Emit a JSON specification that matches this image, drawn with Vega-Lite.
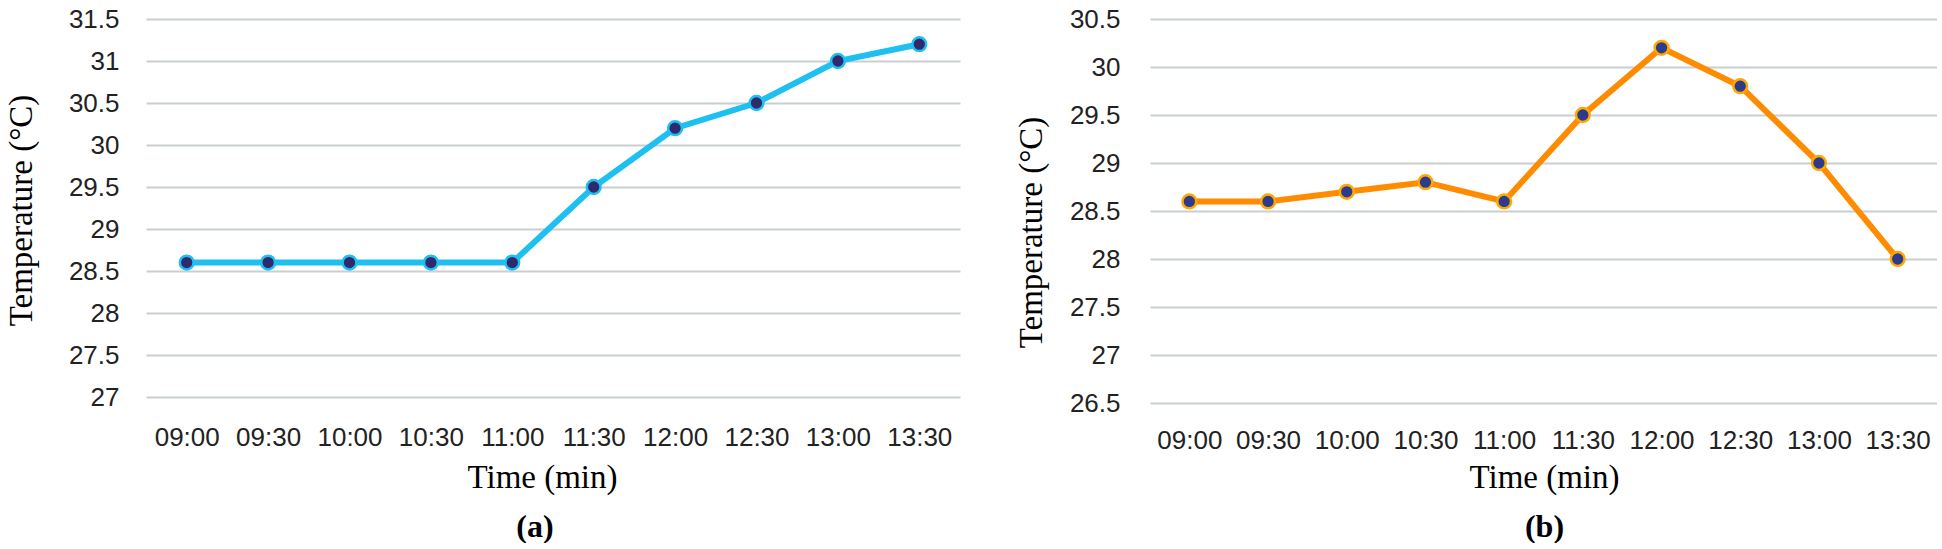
{
  "$schema": "https://vega.github.io/schema/vega-lite/v6.json",
  "padding": {"left": 4, "top": 6, "right": 0, "bottom": 0},
  "background": "white",
  "spacing": 54,
  "config": {"view": {"stroke": null}},
  "hconcat": [
    {
      "width": 814,
      "height": 378,
      "data": {"values": [
        {"time": "09:00", "temp": 28.6},
        {"time": "09:30", "temp": 28.6},
        {"time": "10:00", "temp": 28.6},
        {"time": "10:30", "temp": 28.6},
        {"time": "11:00", "temp": 28.6},
        {"time": "11:30", "temp": 29.5},
        {"time": "12:00", "temp": 30.2},
        {"time": "12:30", "temp": 30.5},
        {"time": "13:00", "temp": 31.0},
        {"time": "13:30", "temp": 31.2}
      ]},
      "title": {"text": "(a)", "orient": "bottom", "font": "Liberation Serif", "fontWeight": "bold", "fontSize": 32, "color": "black", "dx": -18, "offset": 18},
      "encoding": {
        "x": {"field": "time", "type": "ordinal", "sort": null, "scale": {"type": "point", "padding": 0.5},
          "axis": {"title": "Time (min)", "labelAngle": 0, "labelFont": "Liberation Sans", "labelFontSize": 26, "labelColor": "#222222", "labelPadding": 27, "ticks": false, "domain": false, "grid": false,
            "titleFont": "Liberation Serif", "titleFontSize": 33, "titleFontWeight": "normal", "titleColor": "black", "titleX": 396, "titleY": 90, "titleBaseline": "alphabetic"}},
        "y": {"field": "temp", "type": "quantitative", "scale": {"domain": [27, 31.5], "nice": false, "zero": false},
          "axis": {"title": "Temperature (°C)", "values": [27, 27.5, 28, 28.5, 29, 29.5, 30, 30.5, 31, 31.5], "format": "~g", "labelFont": "Liberation Sans", "labelFontSize": 26, "labelColor": "#222222", "labelPadding": 27, "ticks": false, "domain": false, "grid": true, "gridColor": "#c9cfcf", "gridWidth": 2,
            "titleFont": "Liberation Serif", "titleFontSize": 33, "titleFontWeight": "normal", "titleColor": "black", "titleX": -125, "titleY": 191, "titleBaseline": "middle"}}
      },
      "layer": [
        {"mark": {"type": "line", "color": "#1ec0f2", "strokeWidth": 6}},
        {"mark": {"type": "point", "filled": true, "fill": "#2f2a6e", "stroke": "#1ec0f2", "strokeWidth": 2.5, "size": 190, "opacity": 1}}
      ]
    },
    {
      "width": 787,
      "height": 384,
      "data": {"values": [
        {"time": "09:00", "temp": 28.6},
        {"time": "09:30", "temp": 28.6},
        {"time": "10:00", "temp": 28.7},
        {"time": "10:30", "temp": 28.8},
        {"time": "11:00", "temp": 28.6},
        {"time": "11:30", "temp": 29.5},
        {"time": "12:00", "temp": 30.2},
        {"time": "12:30", "temp": 29.8},
        {"time": "13:00", "temp": 29.0},
        {"time": "13:30", "temp": 28.0}
      ]},
      "title": {"text": "(b)", "orient": "bottom", "font": "Liberation Serif", "fontWeight": "bold", "fontSize": 32, "color": "black", "dx": 1, "offset": 18},
      "encoding": {
        "x": {"field": "time", "type": "ordinal", "sort": null, "scale": {"type": "point", "padding": 0.5},
          "axis": {"title": "Time (min)", "labelAngle": 0, "labelFont": "Liberation Sans", "labelFontSize": 26, "labelColor": "#222222", "labelPadding": 24, "ticks": false, "domain": false, "grid": false,
            "titleFont": "Liberation Serif", "titleFontSize": 33, "titleFontWeight": "normal", "titleColor": "black", "titleX": 394, "titleY": 84, "titleBaseline": "alphabetic"}},
        "y": {"field": "temp", "type": "quantitative", "scale": {"domain": [26.5, 30.5], "nice": false, "zero": false},
          "axis": {"title": "Temperature (°C)", "values": [26.5, 27, 27.5, 28, 28.5, 29, 29.5, 30, 30.5], "format": "~g", "labelFont": "Liberation Sans", "labelFontSize": 26, "labelColor": "#222222", "labelPadding": 30, "ticks": false, "domain": false, "grid": true, "gridColor": "#c9cfcf", "gridWidth": 2,
            "titleFont": "Liberation Serif", "titleFontSize": 33, "titleFontWeight": "normal", "titleColor": "black", "titleX": -119, "titleY": 213, "titleBaseline": "middle"}}
      },
      "layer": [
        {"mark": {"type": "line", "color": "#ff8c00", "strokeWidth": 6}},
        {"mark": {"type": "point", "filled": true, "fill": "#2e3a8c", "stroke": "#ffa800", "strokeWidth": 2.5, "size": 190, "opacity": 1}}
      ]
    }
  ]
}
